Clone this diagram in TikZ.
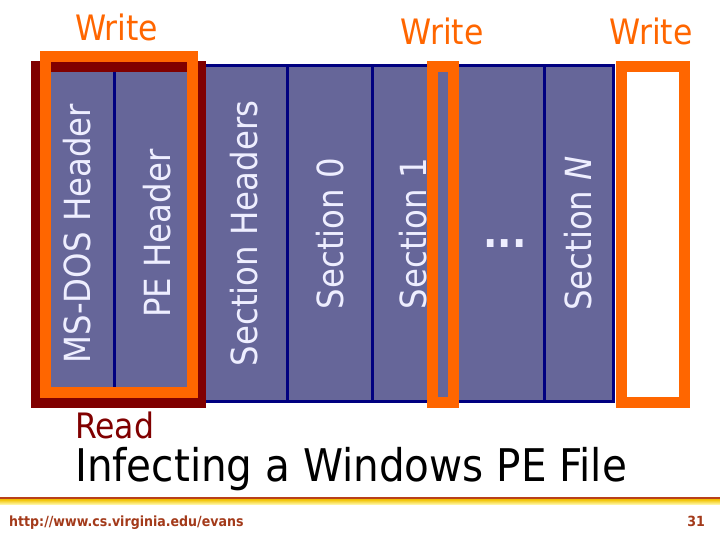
\documentclass[tikz,border=0pt]{standalone}
\usepackage{fontspec}
\setmainfont{DejaVu Sans Condensed}
\definecolor{slate}{HTML}{666699}
\definecolor{edgenavy}{HTML}{000080}
\definecolor{lavender}{HTML}{EEEEFF}
\definecolor{hotorange}{HTML}{FF6600}
\definecolor{deepred}{HTML}{800000}
\definecolor{rulebrown}{HTML}{B8401A}
\definecolor{rulegold}{HTML}{F2C200}
\definecolor{rulepale}{HTML}{FFFAB0}
\definecolor{footred}{HTML}{A33A1A}

\tikzset{
    column/.style={draw=edgenavy, line width=3pt, fill=slate, text=lavender, rotate=90,
        inner sep=0pt, minimum width=335pt, minimum height=#1,
        font=\fontsize{36}{36}\selectfont},
    marker/.style={draw=#1, line width=11pt},
    tag/.style={text=#1, inner sep=0pt, font=\fontsize{35}{35}\selectfont}
}

\begin{document}
\begin{tikzpicture}[x=1pt,y=-1pt]
                      \useasboundingbox[fill=white] (0,0) rectangle (720,540);
                      \node[column=73pt] (msdos) at (77.5,233.5) {MS-DOS Header};
                      \node[column=86pt] (pe) at (157,233.5) {PE Header};
                      \node[column=86pt] (sechead) at (244,233.5) {Section Headers};
                      \node[column=86pt] (sec0) at (330,233.5) {Section 0};
                      \node[column=83pt] (sec1) at (413.5,233.5) {Section 1};
                      \node[column=89pt] (dots) at (499.5,233.5) {};
                      \node[column=69pt] (secn) at (578.5,233.5) {Section \emph{N}};
                      \node[tag=lavender, anchor=base, font=\fontsize{42}{42}\bfseries] (dotmark) at (505,247.5) {...};

                      \draw[marker=deepred] (36.5,66.5) rectangle (200.5,402.5);
                      \draw[marker=hotorange] (45.5,56.5) rectangle (192.5,392.5);
                      \draw[marker=hotorange] (432.5,66.5) rectangle (453.5,402.5);
                      \draw[marker=hotorange, fill=white] (621,67) rectangle (684,402);

                      \node[tag=hotorange, anchor=base] (write1) at (116.5,41) {Write};
                      \node[tag=hotorange, anchor=base] (write2) at (442,45) {Write};
                      \node[tag=hotorange, anchor=base] (write3) at (651,45) {Write};
                      \node[tag=deepred, anchor=base west] (read) at (75,438) {Read};

                      \node[tag=black, anchor=base west, font=\fontsize{45}{45}\selectfont] (title) at (75,481) {Infecting a Windows PE File};

                      \fill[rulebrown] (0,496.5) rectangle (720,499.5);
                      \shade[top color=rulegold, bottom color=rulepale] (0,499.5) rectangle (720,504.5);
                      \node[tag=footred, anchor=base west, font=\fontsize{14}{14}\bfseries] (url) at (9,526) {http://www.cs.virginia.edu/evans};
                      \node[tag=footred, anchor=base east, font=\fontsize{14}{14}\bfseries] (page) at (705,526) {31};
                  \end{tikzpicture}
\end{document}
